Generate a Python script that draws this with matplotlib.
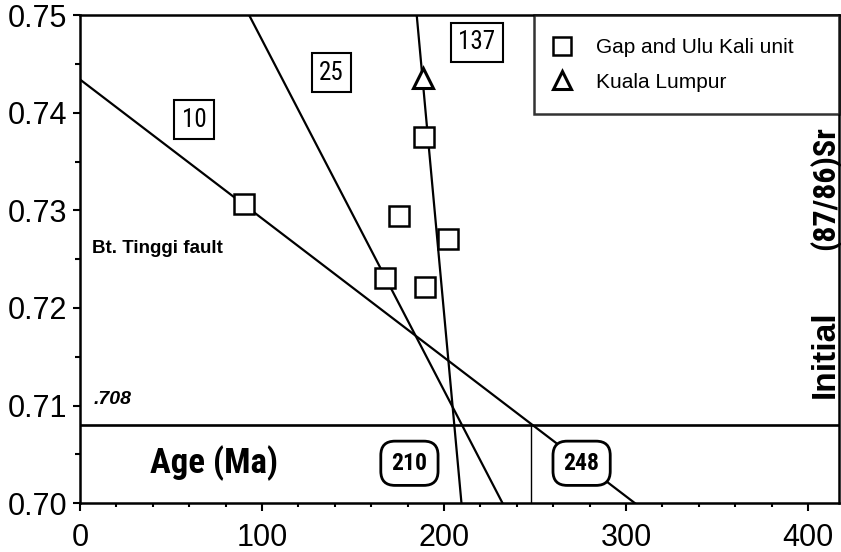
import matplotlib
matplotlib.use("Agg")
import matplotlib.pyplot as plt
from matplotlib import font_manager
from matplotlib.ticker import MultipleLocator, FormatStrFormatter

# Sr evolution lines, labelled by 87Rb/86Sr
line_labels = ["10", "25", "137"]
line_age = [[0, 305], [92.9, 232.2], [185.0, 209.6]]
line_sr = [[0.7434, 0.700], [0.750, 0.700], [0.750, 0.700]]

# samples
gap_age = [90.1, 167.6, 175.4, 189.2, 189.4, 202.0]
gap_sr = [0.7306, 0.7231, 0.7294, 0.7375, 0.7222, 0.7271]
kl_age = [188.3]
kl_sr = [0.7436]

initial_sr = 0.708
ages = [210, 248]


def pick_font(names, default="Liberation Sans"):
    for n in names:
        try:
            font_manager.findfont(n, fallback_to_default=False)
            return n
        except Exception:
            continue
    return default


narrow = pick_font(["Liberation Sans Narrow", "Roboto Condensed", "Open Sans Condensed", "DejaVu Sans Condensed"])

plt.rcParams["font.family"] = ["Liberation Sans", "DejaVu Sans"]

fig = plt.figure(figsize=(8.41, 5.52), dpi=100)
ax = fig.add_axes([0.0951, 0.0882, 0.9025, 0.8846])

for xs, ys in zip(line_age, line_sr):
    ax.plot(xs, ys, color="black", lw=1.6, zorder=2)

ax.axhline(initial_sr, color="black", lw=1.9, zorder=2)
ax.plot([ages[1], ages[1]], [0.700, initial_sr], color="black", lw=1.0, zorder=2)

sq = ax.plot(gap_age, gap_sr, ls="none", marker="s", ms=14, mfc="white", mec="black",
             mew=1.8, zorder=4, label="Gap and Ulu Kali unit")[0]
tri = ax.plot(kl_age, kl_sr, ls="none", marker="^", ms=14, mfc="white", mec="black",
              mew=2.2, zorder=4, label="Kuala Lumpur")[0]

# boxed Rb/Sr labels
label_pos = [(62.6, 0.7393), (138.2, 0.7441), (217.9, 0.7472)]
for txt, (x, y) in zip(line_labels, label_pos):
    ax.text(x, y, txt, ha="center", va="center", fontsize=18, family=narrow, zorder=5,
            bbox=dict(boxstyle="square,pad=0.3", fc="white", ec="black", lw=1.5))

# intercept ages
age_pos = [181, 275.6]
for a, x in zip(ages, age_pos):
    ax.text(x, 0.7041, str(a), ha="center", va="center", fontsize=17, family=narrow,
            fontweight="bold", zorder=5,
            bbox=dict(boxstyle="round,pad=0.45,rounding_size=0.6", fc="white", ec="black", lw=2))

ax.text(73.6, 0.7041, "Age (Ma)", ha="center", va="center", fontsize=25, family=narrow,
        fontweight="bold")
ax.text(6.5, 0.7261, "Bt. Tinggi fault", ha="left", va="center", fontsize=13.5,
        fontweight="bold")
ax.text(7.5, 0.7106, ".708", ha="left", va="center", fontsize=14,
        fontweight="bold", style="italic")
ax.text(0.9816, 0.3058, "Initial", transform=ax.transAxes, rotation=90,
        ha="center", va="center", fontsize=24, fontweight="bold")
ax.text(0.9816, 0.6457, "(87/86)Sr", transform=ax.transAxes, rotation=90,
        ha="center", va="center", fontsize=23, fontweight="bold", family=narrow)

leg = ax.legend(handles=[sq, tri], loc="upper left", bbox_to_anchor=(0.5988, 1.0, 0.4012, 0),
                mode="expand", borderaxespad=0, fontsize=15, frameon=True, fancybox=False,
                handlelength=0.4, handletextpad=1.43, borderpad=1.1, labelspacing=0.75,
                markerscale=0.95)
leg.get_frame().set_edgecolor("black")
leg.get_frame().set_linewidth(1.8)
leg.set_zorder(6)

ax.set_xlim(0, 417)
ax.set_ylim(0.700, 0.750)
ax.xaxis.set_major_locator(MultipleLocator(100))
ax.xaxis.set_minor_locator(MultipleLocator(20))
ax.yaxis.set_major_locator(MultipleLocator(0.01))
ax.yaxis.set_minor_locator(MultipleLocator(0.005))
ax.yaxis.set_major_formatter(FormatStrFormatter("%.2f"))

ax.tick_params(axis="both", which="major", direction="out", width=1.5, labelsize=22)
ax.tick_params(axis="x", which="major", length=6, pad=8)
ax.tick_params(axis="x", which="minor", length=3, width=1.5)
ax.tick_params(axis="y", which="major", length=5, pad=4)
ax.tick_params(axis="y", which="minor", length=3.5, width=1.5)

for s in ax.spines.values():
    s.set_linewidth(1.8)

fig.savefig("out.png", dpi=100)
